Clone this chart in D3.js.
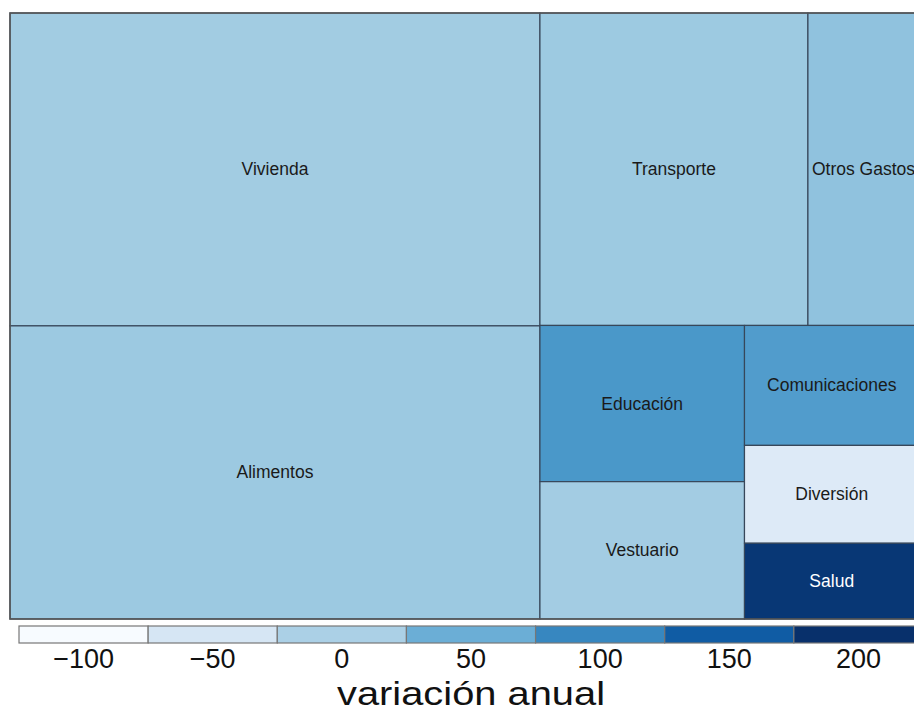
<!DOCTYPE html>
<html>
<head>
<meta charset="utf-8">
<script src="https://cdn.jsdelivr.net/npm/d3@7"></script>
<style>
  body { margin: 0; overflow: hidden; background: #fff; }
  text { font-family: 'Liberation Sans', Arial, sans-serif; }
</style>
</head>
<body>
<div id="chart"></div>
<script>
// weights of each group in the basket and their annual variation
const categorias = ['Vivienda', 'Alimentos', 'Transporte', 'Otros Gastos', 'Educación',
  'Vestuario', 'Comunicaciones', 'Diversión', 'Salud'];
const ponderacion = [30.1, 28.2, 15.2, 6.3, 5.8, 5.1, 3.8, 3.1, 2.4];
const variacion = [9, 14, 13, 23, 80, 8, 74, -61, 192];
// nesting used by the slice-and-dice layout
const grupo = ['a', 'a', 'b/b1', 'b/b1', 'b/b2/e', 'b/b2/e', 'b/b2/c', 'b/b2/c', 'b/b2/c'];

const escala = [-100, -50, 0, 50, 100, 150, 200];
const titulo = 'variación anual';

const margin = { top: 13, left: 10 };
const width = 909;
const height = 606;

const svg = d3.select('#chart')
  .append('svg')
  .attr('width', 940)
  .attr('height', 713);

// Build the nested tree from the flat arrays
const tree = { name: 'root', children: [] };
categorias.forEach((name, i) => {
  let parent = tree;
  grupo[i].split('/').forEach((key) => {
    let child = parent.children.find((c) => c.name === key);
    if (!child) {
      child = { name: key, children: [] };
      parent.children.push(child);
    }
    parent = child;
  });
  parent.children.push({ name: name, peso: ponderacion[i], variacion: variacion[i] });
});

const root = d3.hierarchy(tree).sum((d) => d.peso || 0);

const tile = (node, x0, y0, x1, y1) => {
  (node.depth % 2 === 0 ? d3.treemapDice : d3.treemapSlice)(node, x0, y0, x1, y1);
};
d3.treemap().tile(tile).size([width, height])(root);

// Blues ramp spread over the legend range
const color = d3.scaleLinear()
  .domain(d3.range(9).map((i) => -100 + i * 300 / 8))
  .range(d3.schemeBlues[9])
  .interpolate(d3.interpolateRgb)
  .clamp(true);

const g = svg.append('g')
  .attr('transform', 'translate(' + margin.left + ',' + margin.top + ')');

const cell = g.selectAll('.cell')
  .data(root.leaves())
  .enter()
  .append('g')
  .attr('class', 'cell');

cell.append('rect')
  .attr('x', (d) => d.x0)
  .attr('y', (d) => d.y0)
  .attr('width', (d) => d.x1 - d.x0)
  .attr('height', (d) => d.y1 - d.y0)
  .attr('fill', (d) => color(d.data.variacion))
  .attr('stroke', '#37475a')
  .attr('stroke-width', 1.2);

cell.append('text')
  .attr('x', (d) => (d.x0 + d.x1) / 2)
  .attr('y', (d) => (d.y0 + d.y1) / 2)
  .attr('text-anchor', 'middle')
  .attr('dominant-baseline', 'central')
  .style('font-size', '17.5px')
  .attr('fill', (d) => d.data.variacion > 150 ? '#fff' : '#1a1a1a')
  .text((d) => d.data.name);

g.append('rect')
  .attr('width', width)
  .attr('height', height)
  .attr('fill', 'none')
  .attr('stroke', '#555')
  .attr('stroke-width', 1.5);

// Legend
const x = d3.scaleBand().domain(escala).range([19, 923]);
const legendTop = 626;
const boxHeight = 17;

svg.selectAll('.key')
  .data(escala)
  .enter()
  .append('rect')
  .attr('class', 'key')
  .attr('x', (d) => x(d))
  .attr('y', legendTop)
  .attr('width', x.bandwidth())
  .attr('height', boxHeight)
  .attr('fill', (d) => color(d))
  .attr('stroke', '#777')
  .attr('stroke-width', 1.2);

svg.selectAll('.keyLabel')
  .data(escala)
  .enter()
  .append('text')
  .attr('class', 'keyLabel')
  .attr('x', (d) => x(d) + x.bandwidth() / 2)
  .attr('y', 668)
  .attr('text-anchor', 'middle')
  .style('font-size', '27px')
  .attr('fill', '#111')
  .text((d) => d3.format('')(d).replace('-', '\u2212'));

svg.append('text')
  .attr('x', 471)
  .attr('y', 705)
  .attr('text-anchor', 'middle')
  .attr('textLength', 268)
  .attr('lengthAdjust', 'spacingAndGlyphs')
  .style('font-size', '34px')
  .attr('fill', '#111')
  .text(titulo);
</script>
</body>
</html>
